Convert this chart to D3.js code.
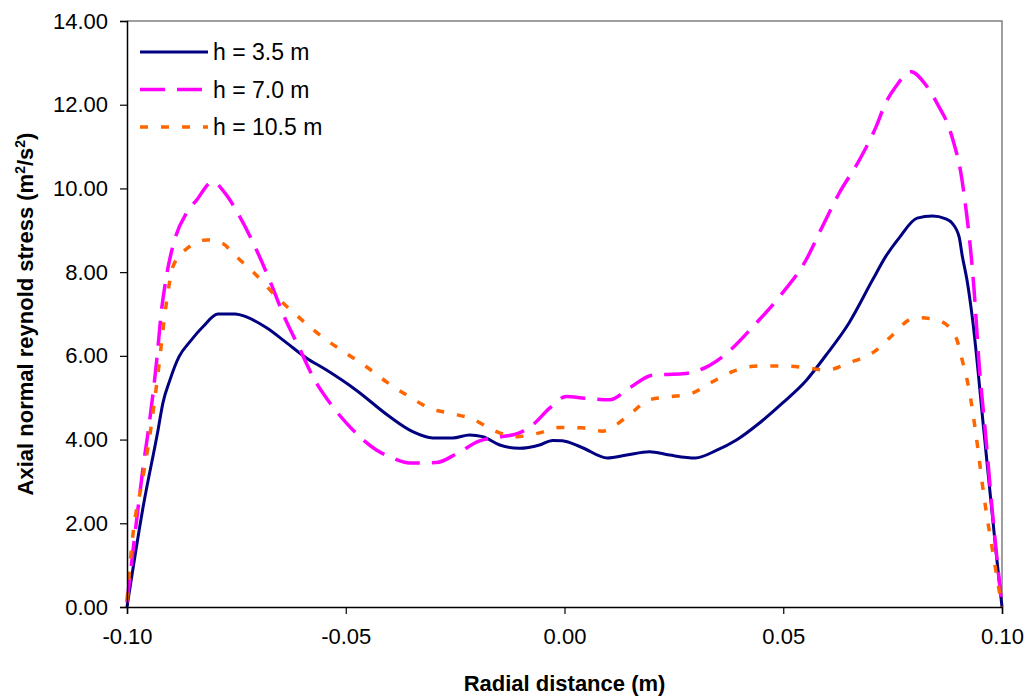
<!DOCTYPE html>
<html>
<head>
<meta charset="utf-8">
<script src="https://cdn.jsdelivr.net/npm/d3@7"></script>
<style>
  body { margin: 0; background: #fff; }
  text { font-family: "Liberation Sans", Arial, sans-serif; fill: #000; }
</style>
</head>
<body>
<svg width="1033" height="698"></svg>
<script>
var svg = d3.select("svg"),
    width = +svg.attr("width"),
    height = +svg.attr("height");

var margin = {top: 21, right: 31, bottom: 91, left: 127};

// h = 3.5 m
var x35 = [-0.100, -0.0963, -0.0929, -0.0918, -0.0902, -0.0881, -0.0856, -0.0826, -0.0792, -0.0753,
  -0.0727, -0.0681, -0.0635, -0.0590, -0.0544, -0.0476, -0.0400, -0.0347, -0.0301, -0.0256,
  -0.0217, -0.0187, -0.0148, -0.0103, -0.0057, -0.0027, -0.0005, 0.0040, 0.0098, 0.0142,
  0.0194, 0.0240, 0.0299, 0.0347, 0.0393, 0.0445, 0.0498, 0.0553, 0.0598, 0.0650,
  0.0704, 0.0734, 0.0765, 0.0806, 0.0841, 0.0870, 0.0886, 0.0902, 0.0909, 0.0920,
  0.0932, 0.0959, 0.0986, 0.1000];
var y35 = [0.00, 2.40, 4.23, 4.87, 5.42, 5.98, 6.34, 6.70, 7.00, 7.00,
  6.93, 6.67, 6.31, 5.95, 5.66, 5.18, 4.55, 4.19, 4.04, 4.04,
  4.11, 4.07, 3.87, 3.79, 3.87, 3.98, 3.97, 3.81, 3.56, 3.63,
  3.71, 3.63, 3.56, 3.74, 3.99, 4.39, 4.87, 5.42, 6.02, 6.78,
  7.81, 8.37, 8.82, 9.29, 9.34, 9.28, 9.17, 8.84, 8.40, 7.81,
  6.93, 4.16, 1.36, 0.00];

// h = 7.0 m
var x70 = [-0.100, -0.0978, -0.0963, -0.0947, -0.0932, -0.0921, -0.0910, -0.0890, -0.0864, -0.0841,
  -0.0804, -0.0776, -0.0742, -0.0704, -0.0674, -0.0644, -0.0605, -0.0575, -0.0530, -0.0491,
  -0.0430, -0.0393, -0.0354, -0.0293, -0.0247, -0.0194, -0.0148, -0.0103, -0.0073, -0.0034,
  0.0004, 0.0046, 0.0103, 0.0148, 0.0201, 0.0270, 0.0324, 0.0360, 0.0438, 0.0491,
  0.0552, 0.0589, 0.0628, 0.0674, 0.0712, 0.0734, 0.0757, 0.0792, 0.0826, 0.0856,
  0.0875, 0.0890, 0.0906, 0.0917, 0.0929, 0.0936, 0.0947, 0.0963, 0.0977, 0.1000];
var y70 = [0.10, 2.08, 3.35, 4.55, 5.90, 7.10, 7.89, 8.81, 9.41, 9.72,
  10.16, 9.89, 9.32, 8.53, 7.81, 7.02, 6.16, 5.50, 4.79, 4.31,
  3.75, 3.56, 3.44, 3.45, 3.66, 3.97, 4.06, 4.16, 4.35, 4.75,
  5.03, 4.99, 4.95, 5.23, 5.54, 5.57, 5.73, 5.97, 6.78, 7.41,
  8.29, 9.08, 9.89, 10.68, 11.47, 12.04, 12.43, 12.79, 12.47, 11.95,
  11.56, 11.08, 10.37, 9.56, 8.45, 7.60, 5.90, 4.06, 2.39, 0.00];

// h = 10.5 m
var x105 = [-0.100, -0.0986, -0.0966, -0.0947, -0.0929, -0.0910, -0.0895, -0.0861, -0.0818, -0.0784,
  -0.0750, -0.0712, -0.0658, -0.0605, -0.0553, -0.0505, -0.0453, -0.0407, -0.0354, -0.0308,
  -0.0263, -0.0210, -0.0164, -0.0110, -0.0057, -0.0011, 0.0040, 0.0087, 0.0110, 0.0148,
  0.0194, 0.0240, 0.0292, 0.0338, 0.0393, 0.0445, 0.0491, 0.0543, 0.0598, 0.0650,
  0.0712, 0.0750, 0.0788, 0.0810, 0.0856, 0.0894, 0.0909, 0.0925, 0.0940, 0.0959,
  0.0982, 0.1000];
var y105 = [0.15, 1.77, 2.96, 4.16, 5.59, 7.26, 8.13, 8.58, 8.77, 8.70,
  8.37, 8.01, 7.41, 6.90, 6.45, 6.10, 5.74, 5.38, 5.02, 4.75,
  4.63, 4.49, 4.23, 4.07, 4.16, 4.29, 4.28, 4.20, 4.30, 4.59,
  4.95, 5.02, 5.11, 5.38, 5.66, 5.76, 5.76, 5.73, 5.66, 5.83,
  6.13, 6.50, 6.86, 6.91, 6.84, 6.46, 5.90, 5.18, 4.16, 2.63,
  1.12, 0.00];

var seriesNames = ["h = 3.5 m", "h = 7.0 m", "h = 10.5 m"];
var xTicks = [-0.10, -0.05, 0.00, 0.05, 0.10];
var yTicks = [0, 2, 4, 6, 8, 10, 12, 14];

var series = [
  {name: seriesNames[0], xs: x35, ys: y35, color: "#000080", width: 3, dash: null},
  {name: seriesNames[1], xs: x70, ys: y70, color: "#ff00ff", width: 3.5, dash: "25,12"},
  {name: seriesNames[2], xs: x105, ys: y105, color: "#ff6600", width: 3.5, dash: "8,13"}
];

var x = d3.scaleLinear().domain([-0.1, 0.1]).range([margin.left, width - margin.right]);
var y = d3.scaleLinear().domain([0, 14]).range([height - margin.bottom, margin.top]);

var fmt = function(d) { return d3.format(".2f")(d).replace("\u2212", "-"); };

// top and right frame
svg.append("path")
    .attr("d", "M" + x(-0.1) + "," + y(14) + "H" + x(0.1) + "V" + y(0))
    .attr("fill", "none")
    .attr("stroke", "#808080")
    .attr("stroke-width", 1.5);

var line = d3.line()
    .x(function(d) { return x(d[0]); })
    .y(function(d) { return y(d[1]); })
    .curve(d3.curveMonotoneX);

svg.append("g")
    .selectAll("path")
    .data(series)
    .enter().append("path")
      .attr("d", function(s) { return line(d3.zip(s.xs, s.ys)); })
      .attr("fill", "none")
      .attr("stroke", function(s) { return s.color; })
      .attr("stroke-width", function(s) { return s.width; })
      .attr("stroke-dasharray", function(s) { return s.dash; })
      .attr("stroke-linejoin", "round");

var xAxis = svg.append("g")
    .attr("transform", "translate(0," + y(0) + ")")
    .call(d3.axisBottom(x).tickValues(xTicks).tickFormat(fmt).tickSizeOuter(0).tickSize(7).tickPadding(14));

var yAxis = svg.append("g")
    .attr("transform", "translate(" + x(-0.1) + ",0)")
    .call(d3.axisLeft(y).tickValues(yTicks).tickFormat(fmt).tickSizeOuter(0).tickSize(7).tickPadding(12));

[xAxis, yAxis].forEach(function(a) {
  a.select(".domain").attr("stroke", "#000").attr("stroke-width", 1.5);
  a.selectAll(".tick line").attr("stroke", "#000").attr("stroke-width", 1.2);
  a.selectAll(".tick text")
      .style("font-family", "'Liberation Sans', Arial, sans-serif")
      .style("font-size", "22px")
      .attr("fill", "#000");
});

svg.append("text")
    .attr("x", (x(-0.1) + x(0.1)) / 2)
    .attr("y", 691)
    .attr("text-anchor", "middle")
    .style("font-size", "22px")
    .style("font-weight", "bold")
    .text("Radial distance (m)");

var yt = svg.append("text")
    .attr("transform", "translate(33," + ((y(0) + y(14)) / 2) + ") rotate(-90)")
    .attr("text-anchor", "middle")
    .style("font-size", "22px")
    .style("font-weight", "bold");
yt.append("tspan").text("Axial normal reynold stress (m");
yt.append("tspan").attr("dy", -8).style("font-size", "14px").text("2");
yt.append("tspan").attr("dy", 8).text("/s");
yt.append("tspan").attr("dy", -8).style("font-size", "14px").text("2");
yt.append("tspan").attr("dy", 8).text(")");

// legend
var legend = svg.append("g")
    .selectAll("g")
    .data(series)
    .enter().append("g")
      .attr("transform", function(d, i) { return "translate(140," + (52 + i * 37.5) + ")"; });

legend.append("line")
    .attr("x1", 0).attr("x2", 68)
    .attr("stroke", function(s) { return s.color; })
    .attr("stroke-width", function(s) { return s.width; })
    .attr("stroke-dasharray", function(s) { return s.dash; });

legend.append("text")
    .attr("x", 73)
    .attr("dy", "0.35em")
    .style("font-size", "23px")
    .text(function(s) { return s.name; });
</script>
</body>
</html>
